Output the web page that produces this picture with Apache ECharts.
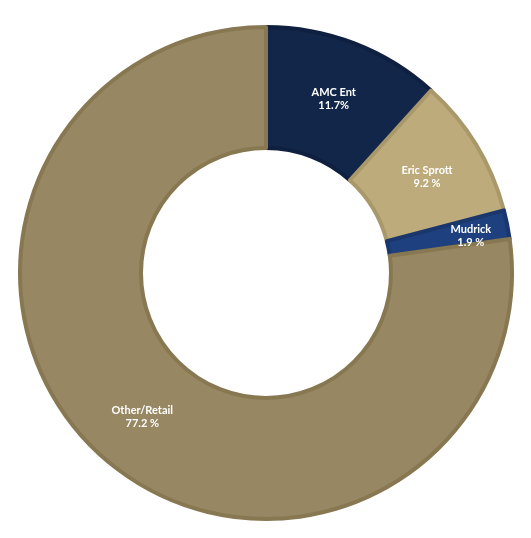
<!DOCTYPE html>
<html>
<head>
<meta charset="utf-8">
<script src="https://cdn.jsdelivr.net/npm/echarts@6/dist/echarts.min.js"></script>
<style>html,body{margin:0;padding:0;background:#fff;}#c{width:531px;height:538px;}</style>
</head>
<body>
<div id="c"></div>
<script>
const categories = ["AMC Ent", "Eric Sprott", "Mudrick", "Other/Retail"];
const values = [11.7, 9.2, 1.9, 77.2];
const valueLabels = ["11.7%", "9.2 %", "1.9 %", "77.2 %"];
const fillColors = ["#12264a", "#bdab7b", "#1f407e", "#978762"];
const borderColors = ["#0e1f3f", "#a9986a", "#19366d", "#877852"];

const chart = echarts.init(document.getElementById('c'));
chart.setOption({
  animation: false,
  backgroundColor: '#ffffff',
  series: [{
    type: 'pie',
    center: [266, 273],
    radius: [125, 246],
    startAngle: 90,
    clockwise: true,
    avoidLabelOverlap: false,
    label: {
      show: true,
      position: 'inside',
      color: '#ffffff',
      fontFamily: 'Lato, "Open Sans", sans-serif',
      fontWeight: 'bold',
      fontSize: 11,
      lineHeight: 13,
      formatter: p => p.name + '\n' + valueLabels[p.dataIndex]
    },
    labelLine: { show: false },
    emphasis: { disabled: true },
    data: categories.map((n, i) => ({
      name: n,
      value: values[i],
      itemStyle: { color: fillColors[i], borderColor: borderColors[i], borderWidth: 4 },
      label: i === 2 ? { offset: [20, 0] } : { offset: [0, 2] }
    }))
  }]
});
</script>
</body>
</html>
